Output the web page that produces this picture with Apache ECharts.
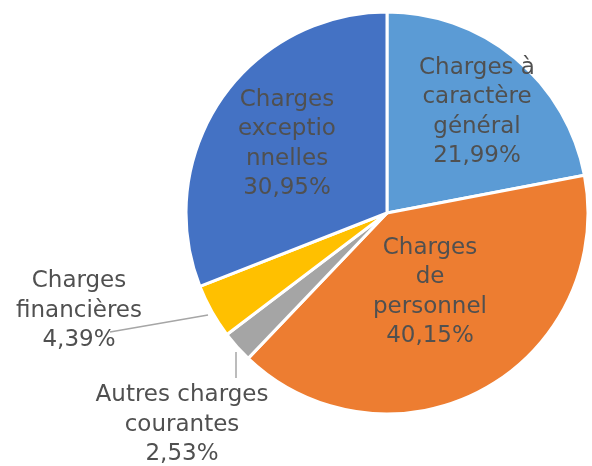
<!DOCTYPE html>
<html>
<head>
<meta charset="utf-8">
<script src="https://cdn.jsdelivr.net/npm/echarts@6/dist/echarts.min.js"></script>
<style>
  html, body { margin: 0; padding: 0; background: #fff; }
  #chart { width: 592px; height: 466px; }
</style>
</head>
<body>
<div id="chart"></div>
<script>
// données
var categories = [
    'Charges à caractère général',
    'Charges de personnel',
    'Autres charges courantes',
    'Charges financières',
    'Charges exceptionnelles'
];
var values = [21.99, 40.15, 2.53, 4.39, 30.95];
// libellés tels qu'ils sont coupés sur le graphique
var labelLines = [
    ['Charges à', 'caractère', 'général'],
    ['Charges', 'de', 'personnel'],
    ['Autres charges', 'courantes'],
    ['Charges', 'financières'],
    ['Charges', 'exceptio', 'nnelles']
];
var colors = ['#5B9BD5', '#ED7D31', '#A5A5A5', '#FFC000', '#4472C4'];

// placement des étiquettes (centre du bloc de texte)
var labelPos = [
    { x: 477, y: 112 },
    { x: 430, y: 292 },
    { x: 182, y: 425 },
    { x: 79, y: 311 },
    { x: 287, y: 144 }
];
// lignes de rappel des petites parts
var leaderLines = [
    [[236, 352], [236, 378]],
    [[208, 315], [110, 332]]
];

let fmtPct = function (v) {
    return v.toFixed(2).replace('.', ',') + '%';
};

let chart = echarts.init(document.getElementById('chart'));

let seriesData = categories.map(function (name, i) {
    return {
        name: name,
        value: values[i],
        itemStyle: { color: colors[i] }
    };
});

chart.setOption({
    animation: false,
    textStyle: { fontFamily: 'DejaVu Sans' },
    graphic: leaderLines.map(function (pts) {
        return {
            type: 'polyline',
            silent: true,
            z: 10,
            shape: { points: pts },
            style: { stroke: '#A6A6A6', lineWidth: 1.5, fill: null }
        };
    }),
    series: [{
        type: 'pie',
        center: [387, 213],
        radius: 201,
        startAngle: 90,
        clockwise: true,
        avoidLabelOverlap: false,
        itemStyle: { borderColor: '#fff', borderWidth: 3 },
        label: {
            show: true,
            position: 'inside',
            color: '#505050',
            fontSize: 23,
            lineHeight: 29.5,
            align: 'center',
            verticalAlign: 'middle',
            formatter: function (p) {
                return labelLines[p.dataIndex].concat([fmtPct(p.value)]).join('\n');
            }
        },
        labelLine: { show: false },
        labelLayout: function (params) {
            let pos = labelPos[params.dataIndex];
            return {
                x: pos.x,
                y: pos.y,
                align: 'center',
                verticalAlign: 'middle'
            };
        },
        data: seriesData
    }]
});
</script>
</body>
</html>
